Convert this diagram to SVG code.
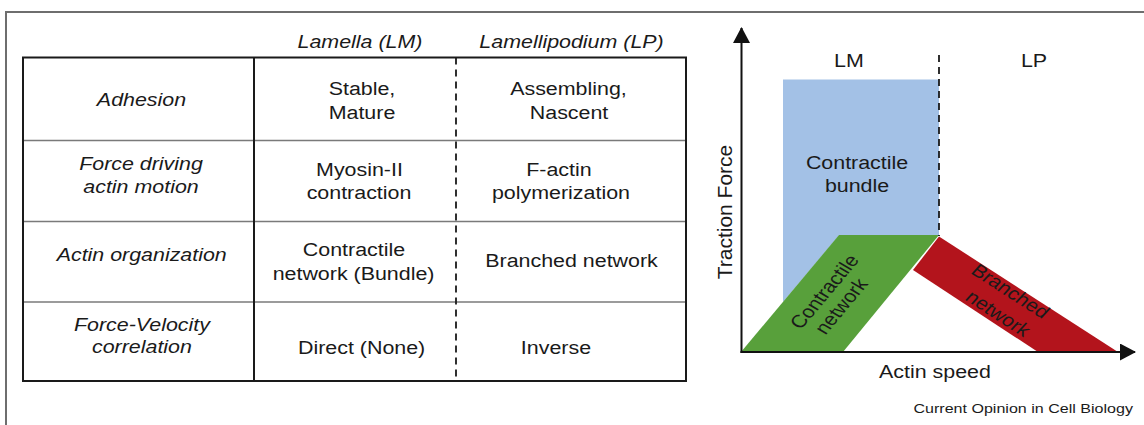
<svg xmlns="http://www.w3.org/2000/svg" width="1144" height="425" viewBox="0 0 1144 425">
<style>
.t{font-family:"Liberation Sans",Arial,Helvetica,sans-serif;font-size:18px;fill:#1a1a1a;text-anchor:middle}
.i{font-style:italic}
.s{font-size:13.5px;text-anchor:end}
.grid{fill:none;stroke:#1a1a1a;stroke-width:2}
.row{stroke:#7a7a7a;stroke-width:1.5}
.dash{stroke:#1a1a1a;stroke-width:1.8;stroke-dasharray:7 5}
.axis{stroke:#111;stroke-width:2;fill:none}
</style>
<defs>
<marker id="ah" viewBox="0 0 16 17" refX="15" refY="8.5" markerWidth="16" markerHeight="17" markerUnits="userSpaceOnUse" orient="auto">
<path d="M0,0 L16,8.5 L0,17 Z" fill="#111"/>
</marker>
</defs>
<rect width="1144" height="425" fill="#ffffff"/>
<g id="frame" stroke="#6e6e6e" stroke-width="2" fill="none">
<path d="M6,425 V12 H1144"/>
</g>

<g id="table">
<line class="row" x1="23" y1="140.5" x2="686" y2="140.5"/>
<line class="row" x1="23" y1="221.5" x2="686" y2="221.5"/>
<line class="row" x1="23" y1="302" x2="686" y2="302"/>
<rect class="grid" x="23" y="57.5" width="663" height="323.5"/>
<line class="grid" x1="254" y1="57.5" x2="254" y2="381"/>
<line class="dash" x1="456" y1="57.5" x2="456" y2="381"/>
</g>

<g id="table-text" transform="scale(1.19 1)">
<g id="header">
<text class="t i" x="302.5" y="48">Lamella (LM)</text>
<text class="t i" x="480.3" y="48">Lamellipodium (LP)</text>
</g>
<g id="row-adhesion">
<text class="t i" x="118.9" y="106">Adhesion</text>
<text class="t" x="304.2" y="95">Stable,</text>
<text class="t" x="304.2" y="119">Mature</text>
<text class="t" x="477.7" y="95">Assembling,</text>
<text class="t" x="478.2" y="119">Nascent</text>
</g>
<g id="row-force">
<text class="t i" x="118.5" y="170">Force driving</text>
<text class="t i" x="118.5" y="193">actin motion</text>
<text class="t" x="302.1" y="176">Myosin-II</text>
<text class="t" x="301.7" y="199">contraction</text>
<text class="t" x="469.7" y="176">F-actin</text>
<text class="t" x="471.4" y="199">polymerization</text>
</g>
<g id="row-organization">
<text class="t i" x="119.1" y="261">Actin organization</text>
<text class="t" x="297.5" y="256">Contractile</text>
<text class="t" x="297.1" y="280">network (Bundle)</text>
<text class="t" x="480.3" y="267">Branched network</text>
</g>
<g id="row-correlation">
<text class="t i" x="119.3" y="331">Force-Velocity</text>
<text class="t i" x="119.3" y="353">correlation</text>
<text class="t" x="303.9" y="354">Direct (None)</text>
<text class="t" x="467.2" y="354">Inverse</text>
</g>
</g>

<g id="chart">
<g id="contractile-bundle">
<polygon points="783,79.5 939,79.5 939,235.5 839,235.5 783,302" fill="#a3c1e6"/>
<text class="t" transform="scale(1.19 1)" x="720.2" y="169">Contractile</text>
<text class="t" transform="scale(1.19 1)" x="720.2" y="192">bundle</text>
</g>
<g id="contractile-network">
<polygon points="741,352 839,235 939,235 843,352" fill="#58a03b"/>
<text class="t" transform="translate(825 292) scale(1.19 1) rotate(-54.8)" x="0" y="5.5">Contractile</text>
<text class="t" transform="translate(841.7 306.5) scale(1.19 1) rotate(-54.8)" x="0" y="5.5">network</text>
</g>
<g id="branched-network">
<polygon points="913,270 939,236.5 1118,352 1038,352" fill="#b3141c"/>
<text class="t" transform="translate(1010 291.7) scale(1.19 1) rotate(37.4)" x="0" y="5.5">Branched</text>
<text class="t" transform="translate(997.7 314) scale(1.19 1) rotate(37.4)" x="0" y="5.5">network</text>
</g>
<g id="connectors">
<line class="axis" x1="741.5" y1="353" x2="741.5" y2="28" marker-end="url(#ah)"/>
<line class="axis" x1="740.5" y1="352" x2="1135" y2="352" marker-end="url(#ah)"/>
<line class="dash" x1="939" y1="55" x2="939" y2="236" stroke-dasharray="6 4"/>
</g>
<g id="chart-labels">
<text class="t" transform="scale(1.19 1)" x="713.4" y="67">LM</text>
<text class="t" transform="scale(1.19 1)" x="868.9" y="67">LP</text>
<text class="t" transform="scale(1.19 1)" x="785.7" y="378">Actin speed</text>
<text class="t" style="font-size:21px" transform="translate(732 212) rotate(-90)" x="0" y="0">Traction Force</text>
</g>
</g>
<text class="t s" transform="scale(1.19 1)" x="952.1" y="413">Current Opinion in Cell Biology</text>
</svg>
